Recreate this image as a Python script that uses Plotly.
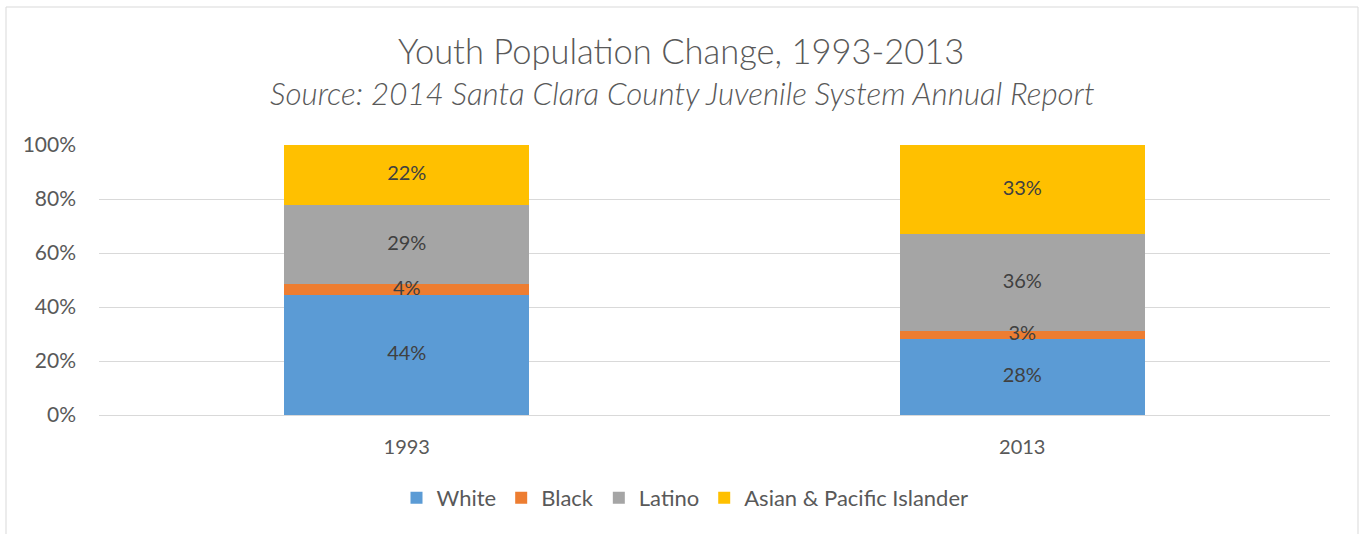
import plotly.graph_objects as go

years = ["1993", "2013"]
series_names = ["White", "Black", "Latino", "Asian & Pacific Islander"]
white = [44.4, 28.1]
black = [4.1, 3.0]
latino = [29.3, 35.9]
asian = [22.2, 33.0]
colors = ["#5B9BD5", "#ED7D31", "#A5A5A5", "#FFC000"]
y_ticks = [0, 20, 40, 60, 80, 100]
y_tick_labels = ["0%", "20%", "40%", "60%", "80%", "100%"]

FONT = "Lato"
fig = go.Figure()
all_series = [white, black, latino, asian]
for name, vals, col in zip(series_names, all_series, colors):
    fig.add_trace(go.Bar(
        x=years, y=vals, name=name, marker=dict(color=col, line=dict(width=0)),
        hoverinfo="skip",
    ))

# data labels drawn on top of all bars (at segment mid-points)
lab_x, lab_y, lab_t = [], [], []
for i, yr in enumerate(years):
    base = 0.0
    for vals in all_series:
        lab_x.append(yr)
        lab_y.append(base + vals[i] / 2)
        lab_t.append(f"{round(vals[i])}%")
        base += vals[i]
fig.add_trace(go.Scatter(
    x=lab_x, y=lab_y, text=lab_t, mode="text", showlegend=False, hoverinfo="skip",
    textfont=dict(family=FONT, size=20, color="#404040"), cliponaxis=False,
))

W, H = 1359, 534
L, R, T, B = 99, 29, 145, 119
pw, ph = W - L - R, H - T - B

def px_x(x):
    return (x - L) / pw

def px_y(y):
    return (H - B - y) / ph

fig.update_layout(
    barmode="stack", bargap=0.602,
    width=W, height=H, margin=dict(l=L, r=R, t=T, b=B, pad=0),
    paper_bgcolor="white", plot_bgcolor="white",
    font=dict(family=FONT, color="#595959"),
    showlegend=True,
    legend=dict(orientation="h", x=px_x(685), xanchor="center", y=px_y(498), yanchor="middle",
                font=dict(family=FONT, size=22, color="#595959"), traceorder="normal",
                itemclick=False, bgcolor="rgba(0,0,0,0)"),
    xaxis=dict(showgrid=False, showline=False, ticks="", tickfont=dict(size=20, color="#595959"),
               ticklabelstandoff=18),
    yaxis=dict(range=[0, 100], tickvals=y_ticks, ticktext=y_tick_labels, showgrid=True,
               gridcolor="#D9D9D9", gridwidth=1.3, zeroline=True, zerolinecolor="#D9D9D9",
               zerolinewidth=1.3, showline=False, ticks="", ticklabelstandoff=22,
               tickfont=dict(size=21, color="#595959")),
    annotations=[
        dict(text="Youth Population Change, 1993-2013", xref="paper", yref="paper",
             x=px_x(681), y=px_y(50), xanchor="center", yanchor="middle", showarrow=False,
             font=dict(family=FONT, size=34.5, color="#595959", weight=300)),
        dict(text="<i>Source: 2014 Santa Clara County Juvenile System Annual Report</i>",
             xref="paper", yref="paper", x=px_x(682), y=px_y(93), xanchor="center",
             yanchor="middle", showarrow=False,
             font=dict(family=FONT, size=31.3, color="#595959", weight=300)),
    ],
    shapes=[dict(type="rect", xref="paper", yref="paper", x0=px_x(6), x1=px_x(1358),
                 y0=px_y(560), y1=px_y(7), line=dict(color="#D9D9D9", width=1),
                 fillcolor="rgba(0,0,0,0)", layer="below")],
)

fig.write_html("out.html")
